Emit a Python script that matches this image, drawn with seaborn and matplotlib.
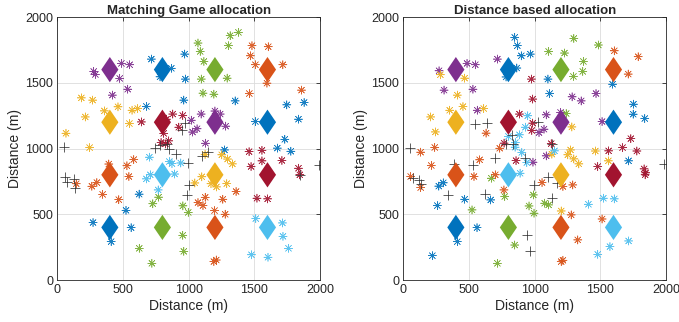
import numpy as np
import pandas as pd
import matplotlib
matplotlib.use("Agg")
import matplotlib.pyplot as plt
from matplotlib.path import Path
import seaborn as sns

# base stations (same grid in both panels)
bs_x = [400, 800, 1200, 1600, 400, 800, 1200, 1600, 400, 800, 1200, 1600, 400, 800, 1200, 1600]
bs_y = [1600, 1600, 1600, 1600, 1200, 1200, 1200, 1200, 800, 800, 800, 800, 400, 400, 400, 400]
bs_col = ["purple", "blue", "green", "orange",
          "yellow", "darkred", "purple", "blue",
          "orange", "lightblue", "yellow", "darkred",
          "blue", "green", "orange", "lightblue"]

# MATLAB default colour order
palette = {"blue": "#0072BD", "orange": "#D95319", "yellow": "#EDB120",
           "purple": "#7E2F8E", "green": "#77AC30", "lightblue": "#4DBEEE",
           "darkred": "#A2142F"}

# users, Matching Game allocation (left)
mg_purple = [(277, 1586), (290, 1563), (488, 1647), (551, 1637), (475, 1533), (536, 1451), (419, 1406),
             (1020, 1215), (1095, 1262), (1200, 1285), (1240, 1262), (1282, 1170), (1064, 1150),
             (1030, 1125), (1128, 1040)]
mg_blue = [(716, 1680), (868, 1610), (782, 1545), (970, 1718), (975, 1528), (963, 1368), (678, 1320),
           (1354, 1362), (1747, 1332), (1879, 1350), (1836, 1223), (1508, 1205), (1732, 1070),
           (1273, 989), (1675, 1003), (1778, 979), (272, 437), (410, 292), (523, 530), (562, 398),
           (623, 653)]
mg_green = [(1071, 1802), (1088, 1738), (1116, 1662), (1096, 1528), (1316, 1858), (1379, 1883),
            (1303, 1782), (1293, 1535), (1109, 1421), (1192, 1413), (727, 580), (771, 630),
            (956, 564), (997, 514), (955, 340), (963, 218), (624, 241), (720, 127)]
mg_orange = [(1482, 1782), (1606, 1774), (1470, 1705), (1508, 1637), (1717, 1637), (1596, 1497),
             (1462, 1418), (1859, 1444), (392, 882), (530, 869), (582, 916), (545, 787), (144, 732),
             (263, 713), (301, 741), (345, 651), (468, 611), (1126, 629), (1071, 589), (1109, 566),
             (1260, 614), (1361, 673), (1197, 528), (1278, 500), (1192, 140), (1210, 152)]
mg_yellow = [(183, 1385), (269, 1368), (358, 1286), (462, 1317), (213, 1240), (569, 1291), (612, 1304),
             (549, 1190), (66, 1116), (246, 1007), (1125, 955), (1252, 952), (1296, 920), (1333, 883),
             (1100, 785), (1047, 738), (1170, 732), (1212, 708), (1290, 733)]
mg_lightblue = [(701, 934), (853, 901), (873, 885), (940, 890), (678, 769), (708, 800), (893, 806),
                (768, 685), (1511, 467), (1714, 434), (1718, 332), (1760, 241), (1478, 192), (1604, 173)]
mg_darkred = [(640, 1202), (831, 1223), (879, 1262), (955, 1251), (925, 1162), (810, 1115), (848, 1058),
              (823, 1035), (790, 1046), (1460, 976), (1558, 986), (1558, 906), (1475, 863), (1710, 909),
              (1836, 850), (1846, 800), (1520, 622), (1601, 617)]
mg_none = [(48, 1012), (56, 787), (74, 744), (124, 767), (132, 703), (740, 1005), (785, 1025), (835, 1037),
           (848, 994), (900, 960), (975, 1197), (950, 1140), (995, 890), (1000, 723), (987, 647),
           (1100, 944), (1150, 977), (1995, 878), (1846, 795)]

# users, Distance based allocation (right)
db_purple = [(272, 1591), (485, 1647), (548, 1637), (310, 1444), (530, 1451), (563, 1291), (716, 1680),
             (1285, 1393), (1354, 1362), (1467, 1418), (1088, 1256), (1197, 1274), (1513, 1205),
             (1071, 1147), (1033, 1121), (987, 896), (1088, 944)]
db_yellow = [(282, 1561), (467, 1535), (411, 1406), (353, 1291), (454, 1319), (612, 1304), (208, 1240),
             (244, 1126), (1283, 1164), (1273, 989), (1462, 981), (1252, 952), (1298, 921), (1336, 883),
             (1131, 957), (1561, 906), (1202, 525)]
db_blue = [(848, 1845), (868, 1782), (898, 1705), (967, 1718), (782, 1544), (864, 1612), (1101, 1528),
           (1114, 1418), (1593, 1489), (1752, 1337), (1750, 1261), (1838, 1228), (1715, 906), (270, 714),
           (304, 739), (259, 566), (467, 614), (665, 609), (561, 398), (411, 292), (221, 185)]
db_darkred = [(975, 1528), (985, 1376), (884, 1262), (985, 1193), (978, 1137), (767, 1041), (1126, 1037),
              (1732, 1075), (1669, 1007), (1778, 981), (1563, 982), (1480, 863), (1833, 845), (1841, 800),
              (858, 908), (1845, 815)]
db_lightblue = [(947, 1249), (929, 1162), (884, 1104), (800, 1092), (853, 1045), (851, 1010), (902, 970),
                (940, 893), (889, 812), (1151, 982), (1409, 576), (1523, 622), (1606, 617), (1573, 254),
                (1715, 297), (1480, 195)]
db_green = [(1106, 1738), (1227, 1726), (1298, 1837), (1371, 1662), (1366, 1586), (1295, 1548),
            (1485, 1787), (1240, 1266), (670, 774), (772, 635), (523, 533), (848, 266), (716, 127),
            (957, 563), (995, 508), (990, 647), (1076, 584), (1106, 571)]
db_orange = [(1606, 1743), (1788, 1698), (1712, 1566), (239, 1008), (132, 972), (213, 871), (56, 787),
             (132, 703), (581, 914), (538, 787), (734, 1002), (700, 800), (766, 685), (630, 1117),
             (1056, 741), (1215, 711), (1290, 723), (1278, 495), (1513, 464), (1328, 305), (1202, 140),
             (1215, 150)]
db_none = [(543, 1185), (637, 1197), (827, 1101), (784, 1032), (835, 1037), (48, 1007), (1025, 1205),
           (1131, 1037), (386, 883), (74, 774), (117, 761), (137, 728), (340, 647), (530, 871), (700, 931),
           (624, 652), (926, 926), (995, 723), (944, 343), (962, 221), (1101, 782), (1172, 736),
           (1131, 622), (1985, 881)]

ticks = [0, 500, 1000, 1500, 2000]

sns.set_style("white")
plt.rcParams["font.family"] = ["Liberation Sans", "DejaVu Sans"]

# MATLAB-like diamond, a bit wider than matplotlib's thin 'd'
diamond = Path([(0, 1), (0.68, 0), (0, -1), (-0.68, 0), (0, 1)],
               [Path.MOVETO, Path.LINETO, Path.LINETO, Path.LINETO, Path.CLOSEPOLY])


def to_frame(groups):
    rows = []
    for name, pts in groups.items():
        for x, y in pts:
            rows.append((x, y, name))
    return pd.DataFrame(rows, columns=["x", "y", "bs"])


bs = pd.DataFrame({"x": bs_x, "y": bs_y, "bs": bs_col})

mg = to_frame({"purple": mg_purple, "blue": mg_blue, "green": mg_green, "orange": mg_orange,
               "yellow": mg_yellow, "lightblue": mg_lightblue, "darkred": mg_darkred})
db = to_frame({"purple": db_purple, "blue": db_blue, "green": db_green, "orange": db_orange,
               "yellow": db_yellow, "lightblue": db_lightblue, "darkred": db_darkred})
mg_free = pd.DataFrame(mg_none, columns=["x", "y"])
db_free = pd.DataFrame(db_none, columns=["x", "y"])

fig = plt.figure(figsize=(6.79, 3.22), dpi=100)
ax1 = fig.add_axes([0.0844, 0.1304, 0.3869, 0.8168])
ax2 = fig.add_axes([0.594, 0.1304, 0.3869, 0.8168])

for ax, users, free, title in [(ax1, mg, mg_free, "Matching Game allocation"),
                               (ax2, db, db_free, "Distance based allocation")]:
    sns.scatterplot(data=users, x="x", y="y", hue="bs", palette=palette, marker=(8, 2, 0),
                    s=34, linewidth=0.45, alpha=0.9, legend=False, ax=ax, zorder=2)
    sns.scatterplot(data=free, x="x", y="y", color="#333333", marker="+",
                    s=50, linewidth=0.55, legend=False, ax=ax, zorder=2)
    sns.scatterplot(data=bs, x="x", y="y", hue="bs", palette=palette, marker=diamond,
                    s=330, linewidth=0, legend=False, ax=ax, zorder=3)
    ax.set_xlim(0, 2000)
    ax.set_ylim(0, 2000)
    ax.set_xticks(ticks)
    ax.set_yticks(ticks)
    ax.grid(True, color="#dcdcdc", lw=0.6, zorder=0)
    ax.set_axisbelow(True)
    ax.tick_params(direction="in", top=True, right=True, length=3, width=0.6,
                   labelsize=9, colors="#262626", pad=3)
    for sp in ax.spines.values():
        sp.set_color("#262626")
        sp.set_linewidth(0.6)
    ax.set_xlabel("Distance (m)", fontsize=10, color="#262626", labelpad=2)
    ax.set_ylabel("Distance (m)", fontsize=10, color="#262626", labelpad=2)
    ax.set_title(title, fontsize=9.5, fontweight="bold", pad=2)

fig.savefig("out.png", dpi=100)
